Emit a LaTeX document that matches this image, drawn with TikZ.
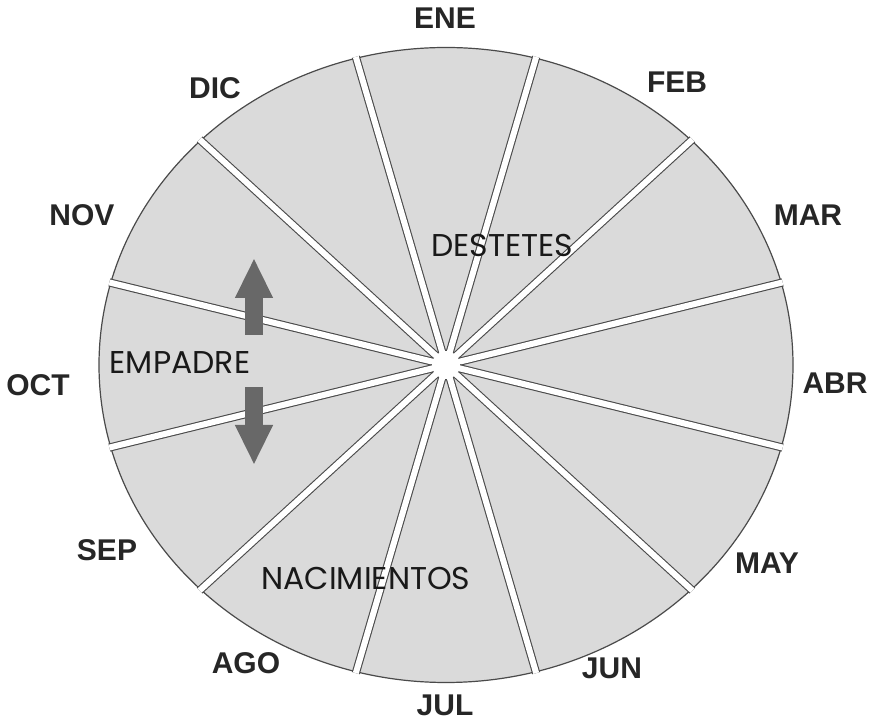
\documentclass[tikz,border=0pt]{standalone}
\usepackage{fontspec}
\setmainfont{Liberation Sans}
\newfontfamily\gothic{Poppins}
\usetikzlibrary{arrows.meta, calc}
\definecolor{Wheel_Fill}{HTML}{DADADA}
\definecolor{Wheel_Edge}{HTML}{4A4A4A}
\definecolor{Arrow_Gray}{HTML}{686868}

\begin{document}
\begin{tikzpicture}[x=1pt, y=1pt,
  month/.style={font=\fontsize{30}{30}\selectfont\bfseries, text=black!85},
  stage/.style={font=\gothic\fontsize{31.5}{32}\selectfont, text=black!90},
  gap/.style={draw=Wheel_Edge, line width=1.1pt, double=white, double distance=6pt},
  blockarrow/.style={Arrow_Gray, line width=18pt, -{Triangle[width=35pt, length=40pt]}}]
\useasboundingbox (0,0) rectangle (876,723);
% Wheel
\coordinate (ctr) at (446,358);
\filldraw[fill=Wheel_Fill, draw=Wheel_Edge, line width=1.2pt] (ctr) ellipse [x radius=347, y radius=317.5];
% Gaps between months
\foreach \a in {15,45,...,345} {
  \draw[gap] (ctr) -- ($(ctr)+(\a:348.5 and 319)$);
}
\fill[white] (ctr) circle (14);
% Months
\foreach \m/\x/\y in {ENE/445/705, FEB/677/641, MAR/808/508, ABR/835/340,
  MAY/767/160, JUN/612/55, JUL/445/18, AGO/246/60, SEP/107/173,
  OCT/38/338, NOV/82/508, DIC/215/635} {
  \node[month] (\m) at (\x,\y) {\m};
}
% Stages
\node[stage] (destetes) at (502,478) {DESTETES};
\node[stage] (empadre) at (180,360) {EMPADRE};
\node[stage] (nacimientos) at (366,145) {NACIMIENTOS};
% Arrows
\coordinate (upbase) at (254,388);
\coordinate (uptip) at (254,465);
\coordinate (dnbase) at (254,336);
\coordinate (dntip) at (254,258);
\draw[blockarrow] (upbase) -- (uptip);
\draw[blockarrow] (dnbase) -- (dntip);
\end{tikzpicture}
\end{document}
